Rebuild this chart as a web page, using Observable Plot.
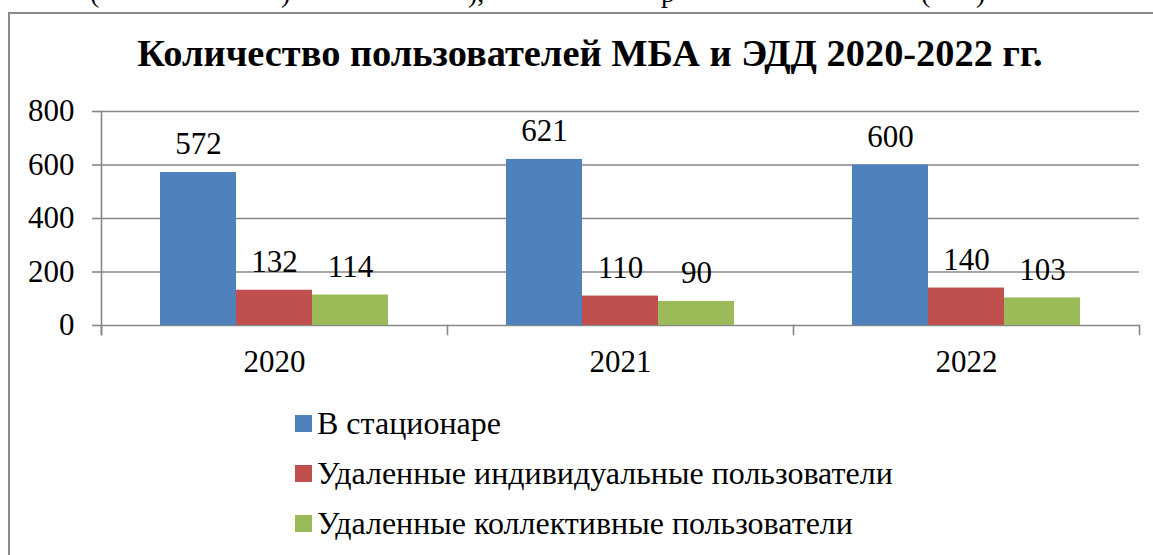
<!DOCTYPE html>
<html>
<head>
<meta charset="utf-8">
<script src="https://cdn.jsdelivr.net/npm/d3@7"></script>
<script src="https://cdn.jsdelivr.net/npm/@observablehq/plot@0.6"></script>
<style>
  html, body { margin: 0; padding: 0; background: #fff; overflow: hidden; }
  body { width: 1153px; height: 555px; position: relative; font-family: "Liberation Serif", "Times New Roman", Tinos, "DejaVu Serif", "Noto Serif", serif; color: #000; }
  #frame { position: absolute; left: 8px; top: 12px; width: 2000px; height: 2000px; border-left: 2px solid #8a8a8a; border-top: 2px solid #8a8a8a; }
  #above { position: absolute; top: -23px; left: 0; width: 1153px; height: 40px; font-size: 28px; }
  #above span { position: absolute; top: 0; }
  #title { position: absolute; left: 0; width: 1180px; top: 33px; text-align: center; font-weight: bold; font-size: 38.4px; line-height: 40px; }
  #chart { position: absolute; left: 0; top: 0; }
  #legend { position: absolute; left: 295px; top: 398px; font-size: 32px; }
  .row { display: flex; align-items: center; height: 50px; }
  .sw { width: 17px; height: 17px; margin-right: 5px; }
</style>
</head>
<body>
<div id="above"></div>
<div id="frame"></div>
<div id="title"></div>
<div id="chart"></div>
<div id="legend"></div>
<script>
// ---- data ----
const titleText = "Количество пользователей МБА и ЭДД 2020-2022 гг.";
const years = ["2020", "2021", "2022"];
const series = ["В стационаре", "Удаленные индивидуальные пользователи", "Удаленные коллективные пользователи"];
const inStationary = [572, 621, 600];
const remoteIndividual = [132, 110, 140];
const remoteCollective = [114, 90, 103];
const yTicks = [0, 200, 400, 600, 800];
const colors = ["#4F81BD", "#C0504D", "#9BBB59"];
// cut-off glyphs of the document line above the chart
const aboveGlyphs = [["(", 90], [")", 281], ["),", 468], ["р", 661], ["(", 921], [")", 976]];

// ---- build table ----
const valuesBySeries = [inStationary, remoteIndividual, remoteCollective];
const data = [];
years.forEach((yr, i) => series.forEach((s, j) => data.push({year: yr, series: s, value: valuesBySeries[j][i]})));

document.getElementById("title").textContent = titleText;
const above = document.getElementById("above");
aboveGlyphs.forEach(([t, x]) => { const sp = document.createElement("span"); sp.textContent = t; sp.style.left = x + "px"; above.appendChild(sp); });

const W = 1153, H = 370, mT = 111, mB = 45, mL = 100, mR = 14;
const innerH = H - mT - mB;
const gray = "#888888";
const font = "31px";
const family = "'Liberation Serif', 'Times New Roman', Tinos, 'DejaVu Serif', 'Noto Serif', serif";

const chart = Plot.plot({
  width: W, height: H,
  marginTop: mT, marginBottom: mB, marginLeft: mL, marginRight: mR,
  style: {fontFamily: family, fontSize: font, color: "#000", background: "transparent", overflow: "visible"},
  fx: {domain: years, padding: 0, axis: null, label: null},
  x: {domain: series, paddingInner: 0, paddingOuter: 0.747, axis: null, label: null},
  y: {domain: [0, 800], axis: null, label: null},
  color: {domain: series, range: colors},
  marks: [
    Plot.gridY(yTicks, {stroke: gray, strokeWidth: 1.6, strokeOpacity: 1}),
    Plot.frame({anchor: "left", facetAnchor: "left", stroke: gray, strokeWidth: 1.6, insetBottom: -9}),
    Plot.frame({anchor: "left", stroke: gray, strokeWidth: 1.6, insetTop: innerH, insetBottom: -9}),
    Plot.frame({anchor: "right", facetAnchor: "right", stroke: gray, strokeWidth: 1.6, insetTop: innerH, insetBottom: -9}),
    Plot.axisY(yTicks, {tickSize: 9, tickPadding: 18, stroke: gray, strokeWidth: 1.6, fill: "#000", fontSize: font, fontFamily: family, label: null}),
    Plot.barY(data, {fx: "year", x: "series", y: "value", fill: "series"}),
    Plot.text(data, {fx: "year", x: "series", y: "value", text: "value", dy: -18, lineAnchor: "bottom", fill: "#000", fontSize: font, fontFamily: family}),
    Plot.axisFx({anchor: "bottom", tickSize: 0, tickPadding: 24, fill: "#000", fontSize: font, fontFamily: family, label: null})
  ]
});
document.getElementById("chart").appendChild(chart);

const legend = document.getElementById("legend");
series.forEach((s, j) => {
  const row = document.createElement("div"); row.className = "row";
  const sw = document.createElement("div"); sw.className = "sw"; sw.style.background = colors[j];
  const t = document.createElement("span"); t.textContent = s;
  row.appendChild(sw); row.appendChild(t); legend.appendChild(row);
});
</script>
</body>
</html>
